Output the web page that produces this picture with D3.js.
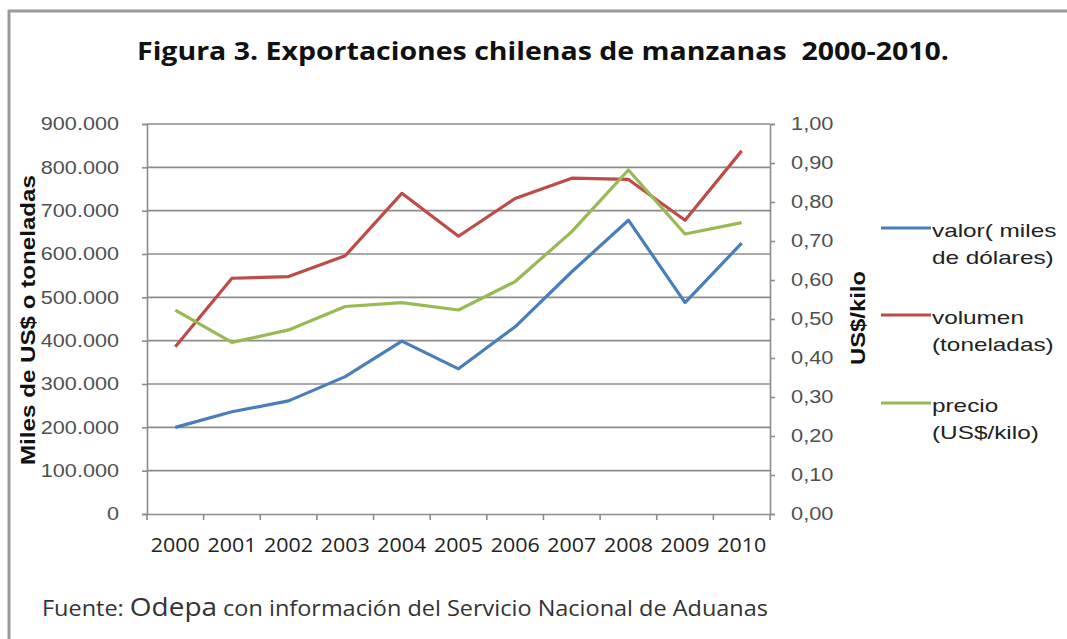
<!DOCTYPE html>
<html><head><meta charset="utf-8">
<script src="https://cdn.jsdelivr.net/npm/d3@7"></script>
<style>
html,body{margin:0;padding:0;background:#fff;}
svg{display:block;}
text{white-space:pre;}
</style></head>
<body>
<svg id="chart" width="1067" height="639"></svg>
<script>
const years = ["2000","2001","2002","2003","2004","2005","2006","2007","2008","2009","2010"];
const valor = [200000,236000,261000,317000,399000,335000,432000,559000,678000,488000,625000];
const volumen = [386000,544000,548000,596000,740000,641000,728000,775000,772000,678000,838000];
const precio = [0.523,0.440,0.472,0.532,0.542,0.523,0.596,0.724,0.882,0.718,0.747];
const leftTicks = [0,100000,200000,300000,400000,500000,600000,700000,800000,900000];
const rightTicks = [0,0.1,0.2,0.3,0.4,0.5,0.6,0.7,0.8,0.9,1.0];
const seriesNames = [["valor( miles","de dólares)"],["volumen","(toneladas)"],["precio","(US$/kilo)"]];
const colors = ["#4a7ebb","#be4b48","#98b954"];

const svg = d3.select("#chart");
const L = 147, R = 770, T = 124, B = 514;
const loc = d3.formatLocale({decimal:",", thousands:".", grouping:[3], currency:["$",""]});
const fmtL = loc.format(",");
const fmtR = loc.format(".2f");
const stretch = (sel, k) => sel.each(function(){
  const w = this.getComputedTextLength();
  d3.select(this).attr("textLength", w*k).attr("lengthAdjust","spacingAndGlyphs");
});

// frame
svg.append("line").attr("x1",9).attr("x2",9).attr("y1",10).attr("y2",639).attr("stroke","#9a9a9a").attr("stroke-width",3);
svg.append("line").attr("x1",8).attr("x2",1067).attr("y1",11).attr("y2",11).attr("stroke","#9a9a9a").attr("stroke-width",3);

const x = d3.scaleBand().domain(years).range([L,R]).paddingInner(0).paddingOuter(0);
const yL = d3.scaleLinear().domain([0,900000]).range([B,T]);
const yR = d3.scaleLinear().domain([0,1]).range([B,T]);
const cx = d => x(d) + x.bandwidth()/2;

// title
svg.append("text").attr("x",543).attr("y",60).attr("text-anchor","middle")
  .attr("font-family","'Open Sans', sans-serif").attr("font-weight","bold").attr("font-size",25)
  .attr("textLength",812).attr("lengthAdjust","spacingAndGlyphs").attr("fill","#111")
  .text("Figura 3. Exportaciones chilenas de manzanas  2000-2010.");

// gridlines
svg.append("g").selectAll("line").data(leftTicks.filter(d=>d>0)).join("line")
  .attr("x1",L).attr("x2",R).attr("y1",d=>yL(d)).attr("y2",d=>yL(d))
  .attr("stroke","#8c8c8c").attr("stroke-width",1.6);

// left axis
const gL = svg.append("g").attr("transform",`translate(${L},0)`)
  .call(d3.axisLeft(yL).tickValues(leftTicks).tickFormat(fmtL).tickSize(5).tickPadding(23));
gL.select(".domain").attr("stroke","#8c8c8c").attr("stroke-width",1.6);
gL.selectAll(".tick line").attr("stroke","#8c8c8c").attr("stroke-width",1.6);
gL.selectAll("text").attr("font-family","'Liberation Sans', Arial, sans-serif").attr("font-size",18.5).attr("fill","#505050");
stretch(gL.selectAll("text"), 1.17);

// right axis
const gR = svg.append("g").attr("transform",`translate(${R},0)`)
  .call(d3.axisRight(yR).tickValues(rightTicks).tickFormat(fmtR).tickSize(5).tickPadding(16));
gR.select(".domain").attr("stroke","#8c8c8c").attr("stroke-width",1.6);
gR.selectAll(".tick line").attr("stroke","#8c8c8c").attr("stroke-width",1.6);
gR.selectAll("text").attr("font-family","'Liberation Sans', Arial, sans-serif").attr("font-size",18.5).attr("fill","#505050");
stretch(gR.selectAll("text"), 1.18);

// x axis
const gX = svg.append("g").attr("transform",`translate(0,${B})`)
  .call(d3.axisBottom(x).tickSize(0).tickPadding(24));
gX.select(".domain").attr("stroke","#8c8c8c").attr("stroke-width",1.6);
gX.selectAll("text").attr("font-family","'Open Sans', sans-serif").attr("font-size",20).attr("fill","#222")
  .attr("textLength",49).attr("lengthAdjust","spacingAndGlyphs");
const bounds = years.map(d=>x(d)).concat([R]);
svg.append("g").selectAll("line").data(bounds).join("line")
  .attr("x1",d=>d).attr("x2",d=>d).attr("y1",B).attr("y2",B+6)
  .attr("stroke","#8c8c8c").attr("stroke-width",1.6);

// axis titles
svg.append("text").attr("transform",`translate(35,320) rotate(-90)`).attr("text-anchor","middle")
  .attr("font-family","'Liberation Sans', Arial, sans-serif").attr("font-weight","bold").attr("font-size",20.5)
  .attr("textLength",290).attr("lengthAdjust","spacingAndGlyphs")
  .attr("fill","#111").text("Miles de US$ o toneladas");
svg.append("text").attr("transform",`translate(865,318) rotate(-90)`).attr("text-anchor","middle")
  .attr("font-family","'Liberation Sans', Arial, sans-serif").attr("font-weight","bold").attr("font-size",20.5)
  .attr("textLength",94).attr("lengthAdjust","spacingAndGlyphs")
  .attr("fill","#111").text("US$/kilo");

// lines
const lineL = d3.line().x((d,i)=>cx(years[i])).y(d=>yL(d));
const lineR = d3.line().x((d,i)=>cx(years[i])).y(d=>yR(d));
svg.append("path").datum(valor).attr("d",lineL).attr("fill","none").attr("stroke",colors[0]).attr("stroke-width",3.2).attr("stroke-linejoin","round");
svg.append("path").datum(volumen).attr("d",lineL).attr("fill","none").attr("stroke",colors[1]).attr("stroke-width",3.2).attr("stroke-linejoin","round");
svg.append("path").datum(precio).attr("d",lineR).attr("fill","none").attr("stroke",colors[2]).attr("stroke-width",3.2).attr("stroke-linejoin","round");

// legend
const legY = [228,315,403];
seriesNames.forEach((nm,i)=>{
  svg.append("line").attr("x1",881).attr("x2",931).attr("y1",legY[i]).attr("y2",legY[i])
    .attr("stroke",colors[i]).attr("stroke-width",3.2);
  [0,1].forEach(j=>{
    const t = svg.append("text").attr("x",932).attr("y",legY[i]+9+j*27)
      .attr("font-family","'Liberation Sans', Arial, sans-serif").attr("font-size",19).attr("fill","#222")
      .text(nm[j]);
    stretch(t, 1.28);
  });
});

// footer
const f = svg.append("text").attr("x",42).attr("y",616).attr("font-family","'Open Sans', sans-serif").attr("fill","#333")
  .attr("textLength",726).attr("lengthAdjust","spacingAndGlyphs");
f.append("tspan").attr("font-size",21).text("Fuente: ");
f.append("tspan").attr("font-size",25).text("Odepa");
f.append("tspan").attr("font-size",21).text(" con información del Servicio Nacional de Aduanas");
</script>
</body></html>
